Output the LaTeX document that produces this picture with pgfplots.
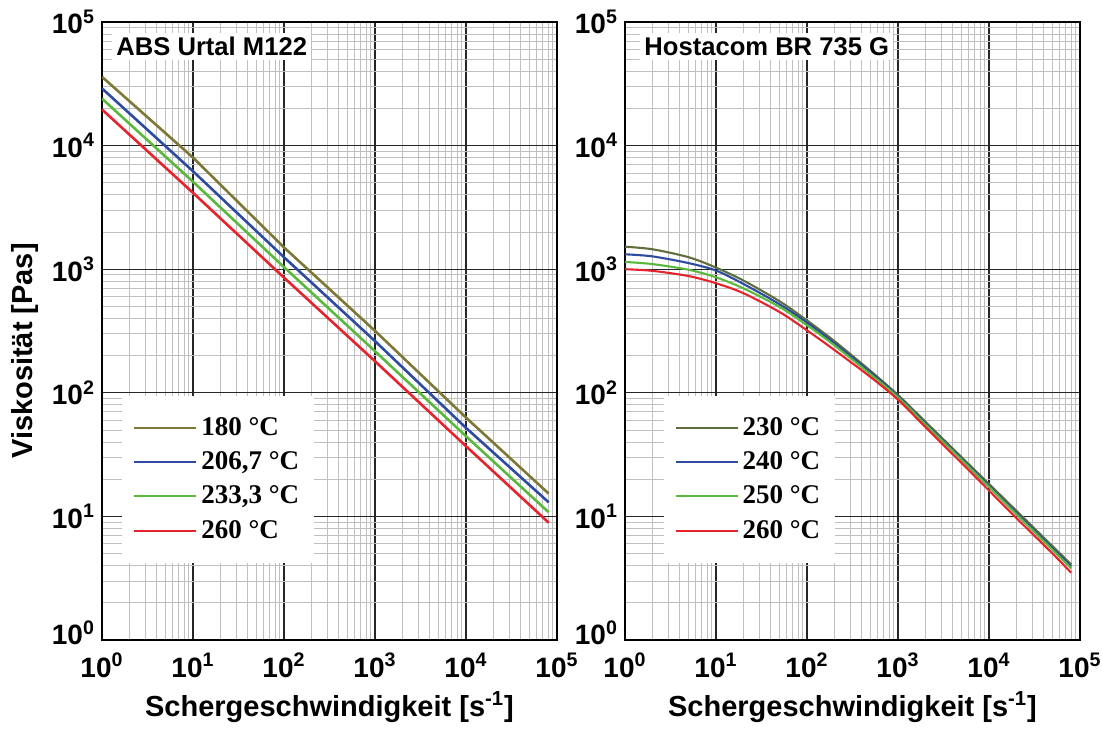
\documentclass[border=0pt]{standalone}
\usepackage{fontspec}
\setmainfont{Liberation Sans}
\newfontfamily\legserif{Liberation Serif}
\usepackage{pgfplots}
\pgfplotsset{compat=1.18}

\definecolor{cOlive}{RGB}{125,120,55}
\definecolor{cOliveB}{RGB}{95,110,60}
\definecolor{cBlue}{RGB}{45,75,160}
\definecolor{cGreen}{RGB}{90,185,60}
\definecolor{cRed}{RGB}{230,35,45}

\pgfplotsset{
  every axis/.append style={
    scale only axis,
    width=227.5pt, height=309pt,
    xmin=1, xmax=1e5, ymin=1, ymax=1e5,
    xtick={1,10,100,1000,10000,100000},
    xticklabels={10\textsuperscript{0},10\textsuperscript{1},10\textsuperscript{2},10\textsuperscript{3},10\textsuperscript{4},10\textsuperscript{5}},
    ytick={1,10,100,1000,10000,100000},
    yticklabels={\raisebox{7.5pt}{10\textsuperscript{0}},10\textsuperscript{1},10\textsuperscript{2},10\textsuperscript{3},10\textsuperscript{4},10\textsuperscript{5}},
    grid=both,
    major grid style={black!85, line width=0.55pt},
    minor grid style={black!25, line width=0.45pt},
    major tick length=0pt, minor tick length=0pt,
    axis line style={line width=1.1pt},
    ticklabel style={font=\bfseries\fontsize{14}{16}\selectfont},
    xticklabel style={yshift=-3pt},
    xlabel style={at={(axis description cs:0.5,0)}, anchor=center, yshift=-33.5pt, font=\bfseries\fontsize{14.5}{17}\selectfont},
    legend image code/.code={\draw[#1, line width=1pt] (0pt,0pt) -- (31pt,0pt);},
    legend cell align=left,
    legend style={anchor=north west, draw=none, fill=white,
      font=\legserif\bfseries\fontsize{13.5}{16}\selectfont,
      row sep=2.6pt, inner xsep=5.5pt, inner ysep=9pt},
  },
}

\begin{document}
\begin{tikzpicture}
\path[use as bounding box] (-51pt,-50pt) rectangle (500pt,320pt);

\begin{loglogaxis}[at={(0pt,0pt)}, anchor=south west,
  xlabel={Schergeschwindigkeit [s\textsuperscript{-1}]},
  legend style={at={(0.044,0.396)}}]
\addplot[line width=1.3pt, color=cOlive] coordinates {(1,36000) (10,8000) (100,1500) (1000,317) (10000,63) (81000,15.3)};
\addplot[line width=1.3pt, color=cBlue] coordinates {(1,29000) (10,6200) (100,1250) (1000,262) (10000,52) (81000,13)};
\addplot[line width=1.3pt, color=cGreen] coordinates {(1,24000) (10,5100) (100,1040) (1000,217) (10000,44.5) (81000,10.8)};
\addplot[line width=1.3pt, color=cRed] coordinates {(1,19600) (10,4150) (100,855) (1000,180) (10000,37) (81000,8.9)};
\legend{180 °C, {206,7 °C}, {233,3 °C}, 260 °C}
\node[fill=white, anchor=north west, inner sep=2pt, font=\bfseries\fontsize{12.8}{15}\selectfont]
  at ([xshift=5pt,yshift=-5.5pt]rel axis cs:0,1) {ABS Urtal M122};
\end{loglogaxis}

\begin{loglogaxis}[at={(261.5pt,0pt)}, anchor=south west,
  xlabel={Schergeschwindigkeit [s\textsuperscript{-1}]},
  legend style={at={(0.084,0.396)}}]
\addplot[line width=1.05pt, smooth, color=cOliveB] coordinates {(1,1520) (2,1450) (5,1250) (10,1030) (20,810) (50,550) (100,385) (200,262) (500,150) (1000,96) (2000,58.3) (5000,30.1) (10000,18.3) (20000,11.1) (50000,5.73) (80000,4.09)};
\addplot[line width=1.05pt, smooth, color=cBlue] coordinates {(1,1320) (2,1270) (5,1120) (10,975) (20,760) (50,520) (100,370) (200,252) (500,146) (1000,94) (2000,56.7) (5000,29.3) (10000,17.7) (20000,10.7) (50000,5.5) (80000,3.95)};
\addplot[line width=1.05pt, smooth, color=cGreen] coordinates {(1,1145) (2,1100) (5,990) (10,860) (20,700) (50,495) (100,352) (200,242) (500,141) (1000,92) (2000,55.5) (5000,28.7) (10000,17.3) (20000,10.4) (50000,5.35) (80000,3.8)};
\addplot[line width=1.05pt, smooth, color=cRed] coordinates {(1,1000) (2,970) (5,880) (10,770) (20,640) (50,450) (100,320) (200,222) (500,134) (1000,88) (2000,52.8) (5000,27) (10000,16.2) (20000,9.7) (50000,5.0) (80000,3.5)};
\legend{230 °C, 240 °C, 250 °C, 260 °C}
\node[fill=white, anchor=north west, inner sep=2pt, font=\bfseries\fontsize{12.8}{15}\selectfont]
  at ([xshift=7.5pt,yshift=-5.5pt]rel axis cs:0,1) {Hostacom BR 735 G};
\end{loglogaxis}

\node[rotate=90, font=\bfseries\fontsize{14.5}{17}\selectfont] at (-38.5pt,144.5pt) {Viskosität [Pas]};
\end{tikzpicture}
\end{document}
